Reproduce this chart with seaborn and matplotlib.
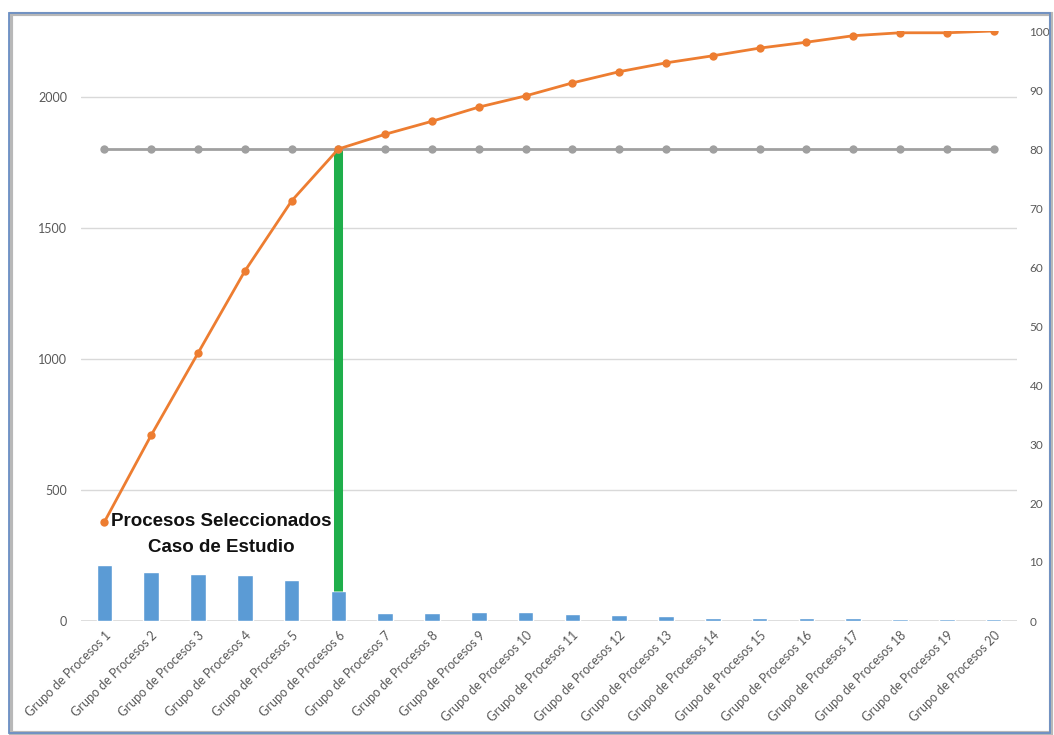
import numpy as np
import pandas as pd
import matplotlib
matplotlib.use("Agg")
import matplotlib.pyplot as plt
from matplotlib.patches import Rectangle
import seaborn as sns

# Pareto data: process groups, occurrence counts and cumulative percentage
groups = [f"Grupo de Procesos {i}" for i in range(1, 21)]
counts = [214, 187, 179, 176, 156, 115, 32, 32, 33, 33,
          25, 24, 18, 12, 12, 12, 12, 6, 6, 6]
cumulative_pct = [16.8, 31.5, 45.4, 59.3, 71.2, 80.0, 82.5, 84.7, 87.1, 89.0,
                  91.2, 93.1, 94.6, 95.8, 97.1, 98.1, 99.2, 99.7, 99.7, 100.0]
threshold_pct = [80] * 20
left_ticks = [0, 500, 1000, 1500, 2000]
right_ticks = [0, 10, 20, 30, 40, 50, 60, 70, 80, 90, 100]
cutoff_index = 5  # last selected group (Grupo de Procesos 6)
annotation = "Procesos Seleccionados\nCaso de Estudio"

LEFT_MAX = 2252
RIGHT_MAX = 100

BLUE = "#5b9bd5"
ORANGE = "#ed7d31"
GREY = "#a0a0a0"
GREEN = "#1fae4b"
LABEL = "#595959"

sns.set_theme(style="white")
plt.rcParams["font.family"] = ["Lato", "DejaVu Sans"]

fig = plt.figure(figsize=(10.54, 7.35), dpi=100)
ax = fig.add_axes([81 / 1054, 1 - 621 / 735, (1017 - 81) / 1054, (621 - 31) / 735])

df = pd.DataFrame({"grupo": groups, "cantidad": counts,
                   "acumulado": cumulative_pct, "umbral": threshold_pct,
                   "pos": np.arange(len(groups))})

ax.axhline(0, color="#d9d9d9", linewidth=1.2, zorder=1)
sns.barplot(data=df, x="grupo", y="cantidad", color=BLUE, width=0.33,
            saturation=1, ax=ax, zorder=2)
ax.set_ylim(0, LEFT_MAX)
ax.set_xlim(-0.5, len(groups) - 0.5)
ax.set_yticks(left_ticks)
ax.yaxis.grid(True, color="#d9d9d9", linewidth=1)
ax.set_axisbelow(True)
ax.set_xlabel("")
ax.set_ylabel("")
for s in ax.spines.values():
    s.set_visible(False)
ax.tick_params(axis="y", labelsize=9, colors=LABEL, length=0, pad=10)
ax.tick_params(axis="x", labelsize=9, colors=LABEL, length=0, pad=6)
plt.setp(ax.get_xticklabels(), rotation=45, ha="right", rotation_mode="anchor")

ax2 = ax.twinx()
ax2.set_ylim(0, RIGHT_MAX)
ax2.set_yticks(right_ticks)
for s in ax2.spines.values():
    s.set_visible(False)
ax2.tick_params(axis="y", labelsize=8.5, colors=LABEL, length=0, pad=9)
ax2.grid(False)

# vertical marker at the cutoff group, from its bar up to the 80 % line
bar_top_pct = counts[cutoff_index] / LEFT_MAX * RIGHT_MAX
ax2.vlines(cutoff_index, bar_top_pct, threshold_pct[cutoff_index],
           color=GREEN, linewidth=6.5, zorder=3)

sns.lineplot(data=df, x="pos", y="umbral", color=GREY, linewidth=2,
             marker="o", markersize=6, markeredgewidth=0, ax=ax2, zorder=4)
sns.lineplot(data=df, x="pos", y="acumulado", color=ORANGE, linewidth=2,
             marker="o", markersize=6, markeredgewidth=0, ax=ax2, zorder=5)
ax2.set_xlabel("")
ax2.set_ylabel("")
ax2.set_xlim(-0.5, len(groups) - 0.5)

ax2.text(2.5, 330 / LEFT_MAX * RIGHT_MAX, annotation, ha="center", va="center",
         fontsize=13.5, fontweight="bold", color="#111111",
         family="Liberation Sans", linespacing=1.65, zorder=6)

# window frame with a soft shadow
fig.patches.append(Rectangle((11 / 1054, 2 / 735), 1040 / 1054, 719 / 735,
                             transform=fig.transFigure, fill=False,
                             edgecolor="#b8b8b8", linewidth=3, zorder=0))
fig.patches.append(Rectangle((9 / 1054, 2 / 735), 1041 / 1054, 720 / 735,
                             transform=fig.transFigure, fill=False,
                             edgecolor="#6b8fc4", linewidth=1.3, zorder=1))

fig.savefig("out.png", dpi=100)
